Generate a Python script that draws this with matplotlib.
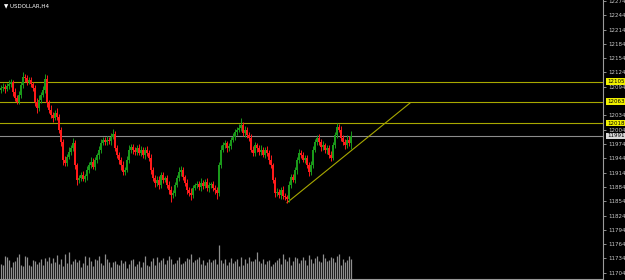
import matplotlib
matplotlib.use("Agg")
import numpy as np
from matplotlib import pyplot as plt

symbol = "USDOLLAR,H4"

# H4 closes (index points, oldest first)
close = [12092, 12094, 12090, 12096, 12100, 12104, 12084, 12071, 12063, 12077,
         12098, 12115, 12113, 12104, 12108, 12100, 12092, 12063, 12050, 12067,
         12077, 12088, 12110, 12060, 12046, 12035, 12029, 12040, 12031, 12004,
         11979, 11941, 11934, 11947, 11958, 11966, 11976, 11930, 11899, 11903,
         11909, 11901, 11907, 11920, 11930, 11937, 11926, 11941, 11951, 11962,
         11976, 11983, 11979, 11983, 11981, 11989, 11995, 11966, 11951, 11941,
         11930, 11916, 11920, 11941, 11962, 11968, 11962, 11958, 11966, 11955,
         11962, 11951, 11962, 11955, 11945, 11920, 11903, 11893, 11899, 11888,
         11909, 11899, 11903, 11888, 11878, 11867, 11872, 11888, 11903, 11916,
         11920, 11905, 11893, 11878, 11872, 11867, 11882, 11888, 11890, 11884,
         11893, 11886, 11895, 11882, 11888, 11890, 11882, 11878, 11872, 11930,
         11962, 11972, 11976, 11966, 11970, 11983, 11989, 11999, 12004, 12008,
         12014, 11997, 12004, 11993, 11987, 11962, 11955, 11972, 11966, 11958,
         11962, 11951, 11962, 11955, 11941, 11930, 11899, 11872, 11874, 11867,
         11878, 11865, 11863, 11859, 11888, 11905, 11899, 11920, 11941, 11955,
         11951, 11941, 11945, 11930, 11916, 11930, 11962, 11979, 11987, 11979,
         11968, 11972, 11962, 11966, 11951, 11945, 11972, 11993, 12010, 12004,
         11987, 11979, 11972, 11983, 11976, 11991]
open_ = [12088] + close[:-1]

upper_wick = [6, 8, 5, 7, 9, 6, 5, 7, 6, 9, 7, 9, 6, 5, 7, 6, 5, 6, 7, 9,
              6, 7, 10, 8, 6, 9, 7, 6, 9, 7, 6, 5, 7, 6, 9, 7, 10, 6, 5, 7,
              6, 9, 5, 7, 6, 9, 7, 6, 5, 7, 9, 6, 5, 7, 6, 9, 10, 6, 5, 7,
              6, 9, 5, 7, 9, 6, 7, 5, 6, 9, 7, 6, 5, 7, 6, 9, 5, 6, 7, 9,
              6, 7, 5, 6, 9, 7, 5, 6, 7, 9, 7, 6, 5, 7, 6, 9, 7, 5, 6, 7,
              9, 5, 6, 7, 6, 5, 6, 7, 5, 6, 9, 7, 6, 5, 7, 6, 9, 7, 6, 9,
              14, 6, 7, 5, 6, 9, 7, 6, 5, 7, 9, 6, 5, 7, 6, 9, 5, 6, 7, 6,
              5, 7, 6, 5, 9, 6, 7, 5, 6, 9, 7, 6, 5, 7, 6, 9, 7, 6, 5, 7,
              6, 9, 5, 7, 6, 9, 7, 6, 9, 6, 7, 5, 6, 9, 7, 10]
lower_wick = [7, 6, 9, 5, 7, 6, 9, 7, 6, 5, 7, 6, 9, 7, 5, 6, 7, 9, 10, 6,
              7, 5, 6, 9, 7, 6, 9, 5, 7, 6, 9, 10, 7, 6, 5, 7, 6, 9, 10, 6,
              7, 5, 6, 9, 7, 6, 5, 7, 6, 9, 7, 5, 6, 7, 6, 9, 5, 7, 6, 9,
              10, 7, 6, 5, 7, 6, 9, 7, 6, 5, 7, 6, 9, 7, 6, 9, 7, 10, 6, 9,
              7, 6, 5, 7, 9, 14, 6, 7, 5, 6, 9, 7, 6, 9, 7, 10, 6, 5, 7, 6,
              9, 7, 5, 6, 9, 7, 6, 9, 13, 6, 7, 5, 6, 9, 7, 6, 5, 7, 6, 5,
              7, 6, 9, 7, 6, 5, 7, 6, 9, 7, 6, 5, 7, 6, 9, 7, 6, 9, 7, 6,
              9, 7, 6, 9, 6, 7, 5, 6, 9, 7, 6, 5, 7, 6, 9, 7, 6, 5, 7, 6,
              9, 7, 6, 9, 7, 6, 5, 7, 6, 5, 7, 6, 9, 7, 6, 12]

volume = [7500, 7000, 11500, 11000, 9500, 6000, 8500, 9000, 11000, 12500,
          7000, 6500, 11500, 11000, 7000, 6500, 9500, 9000, 7500, 8500,
          10000, 7000, 10500, 9000, 11000, 8000, 10500, 8500, 12000, 7500,
          10000, 6500, 12500, 8000, 13500, 7500, 9000, 10000, 8500, 9500,
          6000, 8000, 11500, 7000, 11000, 9000, 6500, 10000, 9500, 11500,
          8000, 7000, 12500, 10000, 8500, 6000, 8500, 9000, 7500, 7000,
          9500, 8000, 9000, 5500, 7500, 9500, 10000, 6500, 7500, 9000,
          6000, 8500, 11500, 7000, 6500, 9000, 10500, 7000, 11000, 8500,
          9500, 10500, 7500, 9500, 11500, 10000, 7500, 8000, 9500, 11000,
          7500, 8000, 9000, 10500, 10000, 12500, 8500, 9500, 10000, 11000,
          7500, 9500, 7000, 8500, 10000, 8500, 9500, 10000, 7500, 17000,
          9500, 8000, 10000, 7000, 8500, 10500, 8000, 9000, 10000, 6500,
          11000, 7000, 10000, 8000, 11000, 9000, 9000, 10000, 13500, 9000,
          8000, 10000, 7500, 9000, 9500, 6500, 7500, 8500, 9500, 10500,
          7500, 12500, 10000, 9000, 11000, 7000, 9000, 11000, 10500, 8000,
          9500, 11000, 9500, 7000, 12000, 10000, 8000, 10500, 11500, 9000,
          8500, 12500, 10500, 9000, 9500, 11000, 10500, 8500, 11500, 12500,
          7000, 10000, 8500, 9500, 11500, 10000]

levels = [12105, 12063, 12018]
last_price = 11991
trend_x = [143, 204.5]
trend_y = [11851, 12060]
tick_prices = [12274, 12244, 12214, 12184, 12154, 12124, 12094, 12034, 12004,
               11974, 11944, 11914, 11884, 11854, 11824, 11794, 11764, 11734, 11704]

close = np.array(close)
open_ = np.array(open_)
high = np.maximum(open_, close) + np.array(upper_wick)
low = np.minimum(open_, close) - np.array(lower_wick)
idx = np.arange(len(close))
up = close >= open_

fig = plt.figure(figsize=(6.25, 2.8), dpi=100, facecolor="black")
ax = fig.add_axes([0.0, 1 / 280, 603 / 625, 279 / 280])
ax.set_facecolor("black")
ax.set_xlim(-0.5, 301)
ax.set_ylim(11691, 12276)

# volumes in the same window, on their own scale
axv = ax.twinx()
axv.set_ylim(0, 139500)
axv.vlines(idx, 0, volume, color="#8f8f8f", lw=0.9, zorder=1)
axv.axis("off")

for lv in levels:
    ax.axhline(lv, color="#a8a800", lw=0.8, zorder=2)
ax.axhline(last_price, color="#8c8c8c", lw=0.8, zorder=2)
ax.plot(trend_x, trend_y, color="#a8a800", lw=0.8, zorder=2)

ax.vlines(idx[up], low[up], high[up], color="#1a9a1a", lw=0.7, zorder=3)
ax.vlines(idx[~up], low[~up], high[~up], color="#ff1a1a", lw=0.7, zorder=3)
ax.bar(idx[up], close[up] - open_[up], bottom=open_[up], width=0.55,
       color="#1a9a1a", zorder=3)
ax.bar(idx[~up], open_[~up] - close[~up], bottom=close[~up], width=0.55,
       color="#ff1a1a", zorder=3)

for s in ["top", "left"]:
    ax.spines[s].set_visible(False)
ax.spines["right"].set_color("#9a9a9a")
ax.spines["bottom"].set_color("#9a9a9a")
ax.spines["right"].set_linewidth(0.8)
ax.spines["bottom"].set_linewidth(0.8)
ax.set_xticks([])
ax.yaxis.tick_right()
ax.set_yticks(tick_prices)
ax.set_yticklabels([str(p) for p in tick_prices])
ax.tick_params(axis="y", colors="#c8c8c8", labelsize=4, length=2, width=0.5, pad=2)

for lv in levels:
    ax.text(1.007, lv, str(lv), transform=ax.get_yaxis_transform(), fontsize=4,
            color="black", va="center", ha="left",
            bbox=dict(boxstyle="square,pad=0.15", fc="#f0f000", ec="none"))
ax.text(1.007, last_price, str(last_price), transform=ax.get_yaxis_transform(),
        fontsize=4, color="black", va="center", ha="left",
        bbox=dict(boxstyle="square,pad=0.15", fc="#d8d8d8", ec="none"))

fig.text(0.006, 0.978, "\u25bc " + symbol, color="white", fontsize=4, va="center")

fig.savefig("out.png", dpi=100, facecolor="black")
